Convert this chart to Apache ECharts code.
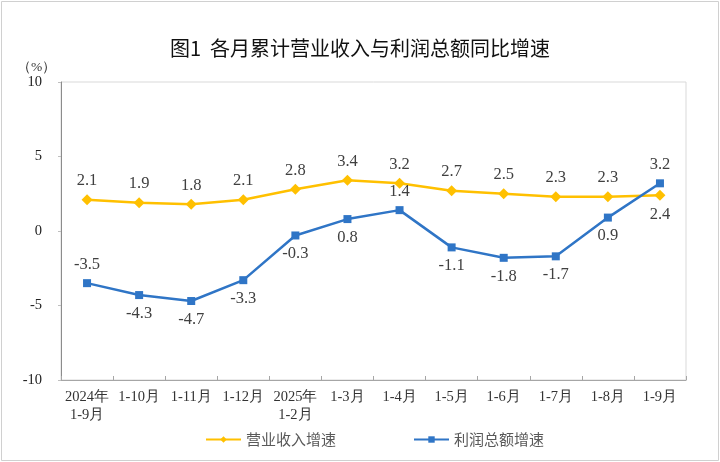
<!DOCTYPE html>
<html><head><meta charset="utf-8">
<script src="https://cdn.jsdelivr.net/npm/echarts@6/dist/echarts.min.js"></script>
<style>html,body{margin:0;padding:0;background:#fff}#c{width:720px;height:462px}</style>
</head><body><div id="c"></div>
<script>
var categories = ['2024年\n1-9月','1-10月','1-11月','1-12月','2025年\n1-2月','1-3月','1-4月','1-5月','1-6月','1-7月','1-8月','1-9月'];
var revenue = [2.1, 1.9, 1.8, 2.1, 2.8, 3.4, 3.2, 2.7, 2.5, 2.3, 2.3, 2.4];
var profit = [-3.5, -4.3, -4.7, -3.3, -0.3, 0.8, 1.4, -1.1, -1.8, -1.7, 0.9, 3.2];
var revenueLabelPos = ['top','top','top','top','top','top','top','top','top','top','top','bottom'];
var profitLabelPos = ['top','bottom','bottom','bottom','bottom','bottom','top','bottom','bottom','bottom','bottom','top'];
var yTicks = [-10, -5, 0, 5, 10];

var serif = '"Liberation Serif","DejaVu Serif",serif';
var cjk = '"Noto Sans CJK SC","Noto Sans",sans-serif';
var chart = echarts.init(document.getElementById('c'));
function mk(vals, pos){
  return vals.map(function(v,i){ return {value:v, label:{position:pos[i]}}; });
}
chart.setOption({
  animation:false,
  backgroundColor:'#fff',
  title:{text:'图1  各月累计营业收入与利润总额同比增速', left:'center', top:33,
    textStyle:{fontFamily:cjk, fontSize:20, fontWeight:'normal', color:'#111'}},
  graphic:[
    {type:'rect', shape:{x:1.5,y:1.5,width:717,height:459}, style:{fill:'none', stroke:'#d0d0d0', lineWidth:1}, silent:true},
    {type:'rect', shape:{x:61,y:82,width:625,height:298}, style:{fill:'none', stroke:'#d9d9d9', lineWidth:1}, silent:true, z:-1},
    {type:'text', left:17, top:60, style:{text:'（%）', fontFamily:serif, fontSize:13.5, fill:'#333'}}
  ],
  legend:{bottom:10, left:200, itemWidth:35, itemHeight:8, itemGap:77,
    textStyle:{fontFamily:cjk, fontSize:15, color:'#595959'},
    data:['营业收入增速','利润总额增速']},
  grid:{left:61, right:34, top:82, bottom:82, containLabel:false},
  xAxis:[
    {type:'category', data:categories, boundaryGap:true, position:'bottom',
     axisLine:{show:false}, axisTick:{show:false},
     axisLabel:{fontFamily:serif, fontSize:14.5, color:'#333', margin:8, lineHeight:18, interval:0}},
    {type:'category', data:categories, boundaryGap:true, position:'bottom',
     axisLine:{show:true, onZero:true, lineStyle:{color:'#a6a6a6', width:1.2}},
     axisTick:{show:true, inside:true, length:4, lineStyle:{color:'#a6a6a6'}},
     axisLabel:{show:false}}
  ],
  yAxis:{type:'value', min:-10, max:10, interval:5,
    axisLine:{show:true, lineStyle:{color:'#8c8c8c'}},
    axisTick:{show:true, length:3, lineStyle:{color:'#bfbfbf'}},
    splitLine:{show:false},
    axisLabel:{fontFamily:serif, fontSize:14.5, color:'#222', margin:19,
      formatter:function(v){ return yTicks.indexOf(v)>=0 ? String(v) : ''; }}},
  series:[
    {name:'营业收入增速', type:'line', data:mk(revenue, revenueLabelPos), xAxisIndex:0,
     symbol:'diamond', symbolSize:11, itemStyle:{color:'#FFC000'},
     lineStyle:{color:'#FFC000', width:2.5},
     label:{show:true, fontFamily:serif, fontSize:16.5, color:'#404040', distance:5}},
    {name:'利润总额增速', type:'line', data:mk(profit, profitLabelPos), xAxisIndex:0,
     symbol:'rect', symbolSize:8, itemStyle:{color:'#2F75C6'},
     lineStyle:{color:'#2F75C6', width:2.5},
     label:{show:true, fontFamily:serif, fontSize:16.5, color:'#404040', distance:6}}
  ]
});
</script></body></html>
